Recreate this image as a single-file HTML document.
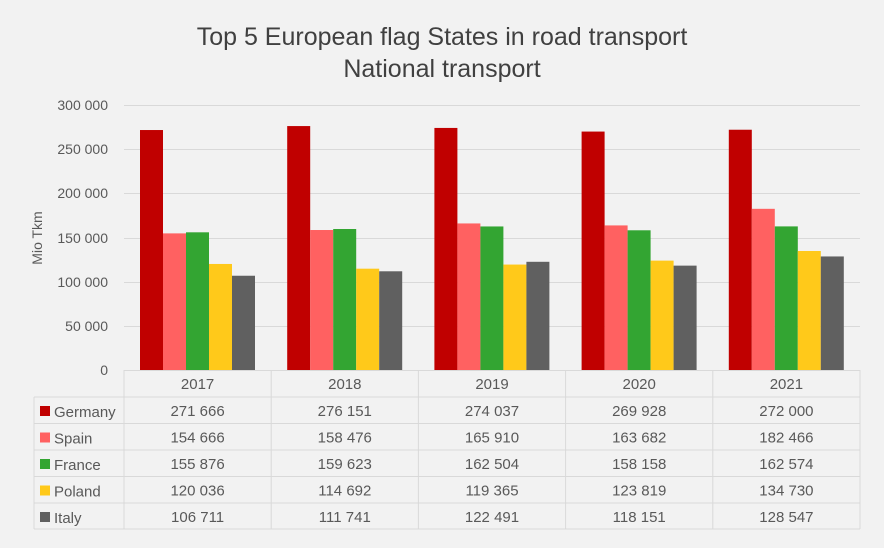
<!DOCTYPE html>
<html><head><meta charset="utf-8"><style>
body{margin:0;background:#f2f2f2;}
svg{display:block;font-family:"Liberation Sans",sans-serif;}
</style></head><body>
<svg width="884" height="548" viewBox="0 0 884 548">
<rect width="884" height="548" fill="#f2f2f2"/>
<text x="442" y="45" text-anchor="middle" font-size="25" fill="#404040">Top 5 European flag States in road transport</text>
<text x="442" y="77" text-anchor="middle" font-size="25" fill="#404040">National transport</text>
<g stroke="#d9d9d9" stroke-width="1">
<line x1="124" x2="860" y1="105.5" y2="105.5"/>
<line x1="124" x2="860" y1="149.5" y2="149.5"/>
<line x1="124" x2="860" y1="193.5" y2="193.5"/>
<line x1="124" x2="860" y1="238.5" y2="238.5"/>
<line x1="124" x2="860" y1="282.5" y2="282.5"/>
<line x1="124" x2="860" y1="326.5" y2="326.5"/>
</g>
<g font-size="14" fill="#595959" text-anchor="end">
<text x="108" y="110">300 000</text>
<text x="108" y="154">250 000</text>
<text x="108" y="198">200 000</text>
<text x="108" y="243">150 000</text>
<text x="108" y="287">100 000</text>
<text x="108" y="331">50 000</text>
<text x="108" y="375">0</text>
</g>
<text transform="translate(42,238) rotate(-90)" text-anchor="middle" font-size="14" fill="#595959">Mio Tkm</text>
<g id="bars"></g>
<g id="table" font-size="15" fill="#595959"></g>
</svg>
<script>
const data=[[271666,276151,274037,269928,272000],[154666,158476,165910,163682,182466],[155876,159623,162504,158158,162574],[120036,114692,119365,123819,134730],[106711,111741,122491,118151,128547]];
const names=["Germany","Spain","France","Poland","Italy"];
const cols=["#c00000","#ff6161","#33a532","#ffc91a","#606060"];
const ns="http://www.w3.org/2000/svg";
const bars=document.getElementById("bars"),tb=document.getElementById("table");
function el(p,t,a,txt){const e=document.createElementNS(ns,t);for(const k in a)e.setAttribute(k,a[k]);if(txt!=null)e.textContent=txt;p.appendChild(e);return e;}
const cw=147.2,x0=124,y0=370,sc=265/300000;
function fmt(v){const s=String(v);return s.slice(0,s.length-3)+" "+s.slice(-3);}
for(let c=0;c<5;c++)for(let s=0;s<5;s++){const h=data[s][c]*sc;el(bars,"rect",{x:x0+c*cw+16+s*23,y:y0-h,width:23,height:h,fill:cols[s]});}
const rows=[370,397,423.5,450,476.5,503,529];
const g=el(tb,"g",{stroke:"#d9d9d9","stroke-width":1});
el(g,"line",{x1:124,x2:860,y1:370.5,y2:370.5});
for(let i=1;i<rows.length;i++)el(g,"line",{x1:34,x2:860,y1:rows[i],y2:rows[i]});
for(let c=0;c<=5;c++)el(g,"line",{x1:x0+c*cw,x2:x0+c*cw,y1:370,y2:529});
el(g,"line",{x1:34,x2:34,y1:397,y2:529});
for(let c=0;c<5;c++){const cx=x0+c*cw+cw/2;el(tb,"text",{x:cx,y:389,"text-anchor":"middle"},String(2017+c));
for(let s=0;s<5;s++)el(tb,"text",{x:cx,y:rows[s+1]+19,"text-anchor":"middle"},fmt(data[s][c]));}
for(let s=0;s<5;s++){el(tb,"rect",{x:40,y:rows[s+1]+9,width:10,height:10,fill:cols[s]});el(tb,"text",{x:54,y:rows[s+1]+20},names[s]);}
</script>
</body></html>
